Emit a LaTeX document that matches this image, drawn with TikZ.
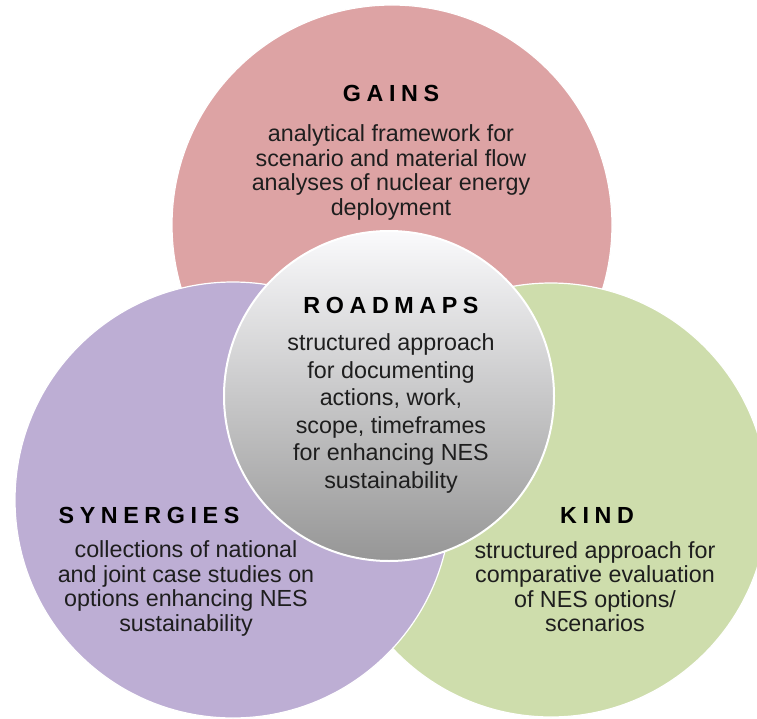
\documentclass[tikz,border=0pt]{standalone}
\usepackage{fontspec}
\setmainfont{Liberation Sans}
\newfontfamily\headfont[LetterSpace=24]{Liberation Sans}
\usepackage{tikz}
\usetikzlibrary{positioning}
\definecolor{gainsred}{RGB}{221,163,164}
\definecolor{kindgreen}{RGB}{206,221,172}
\definecolor{synpurple}{RGB}{189,174,212}
\definecolor{maptop}{RGB}{250,250,252}
\definecolor{mapbottom}{RGB}{150,150,150}
\definecolor{bodytext}{RGB}{30,30,30}

\begin{document}
\begin{tikzpicture}
  [
    x=1pt, y=-1pt,
    ring/.style={circle, draw=white, line width=1.2pt, inner sep=0pt},
    head/.style={anchor=base, inner sep=0pt,
      font=\headfont\bfseries\fontsize{23.3}{25}\selectfont},
    body/.style={inner sep=0pt, align=center, text=bodytext,
      font=\fontsize{23.3}{24.5}\selectfont}
  ]
  \useasboundingbox (0,0) rectangle (757,719);
  \fill[white] (0,0) rectangle (757,719);
  \clip (0,0) rectangle (757,719);

  \node (gains) at (392,225) [ring, fill=gainsred, minimum size=440pt] {};
  \node (kind) at (551,500) [ring, fill=kindgreen, minimum size=434pt] {};
  \node (synergies) at (233,500) [ring, fill=synpurple, minimum size=436pt] {};
  \node (roadmaps) at (389,396) [ring, line width=2pt, minimum size=330pt,
    top color=maptop, bottom color=mapbottom] {};

  \node (gainsT) at (391,102) [head] {GAINS};
  \node (mapsT)  at (391,313) [head] {ROADMAPS};
  \node (synT)   at (149,523) [head] {SYNERGIES};
  \node (kindT)  at (597,523) [head] {KIND};

  \node (gainsB) [body, below=22pt of gainsT]
    {analytical framework for\\ scenario and material flow\\
     analyses of nuclear energy\\ deployment};
  \node (mapsB) [body, below=20pt of mapsT, font=\fontsize{23.3}{27.6}\selectfont]
    {structured approach\\ for documenting\\ actions, work,\\
     scope, timeframes\\ for enhancing NES\\ sustainability};
  \node (synB) [body, below=17pt of synT, xshift=37pt]
    {collections of national\\ and joint case studies on\\
     options enhancing NES\\ sustainability};
  \node (kindB) [body, below=18pt of kindT, xshift=-2pt]
    {structured approach for\\ comparative evaluation\\
     of NES options/\\ scenarios};
\end{tikzpicture}
\end{document}
